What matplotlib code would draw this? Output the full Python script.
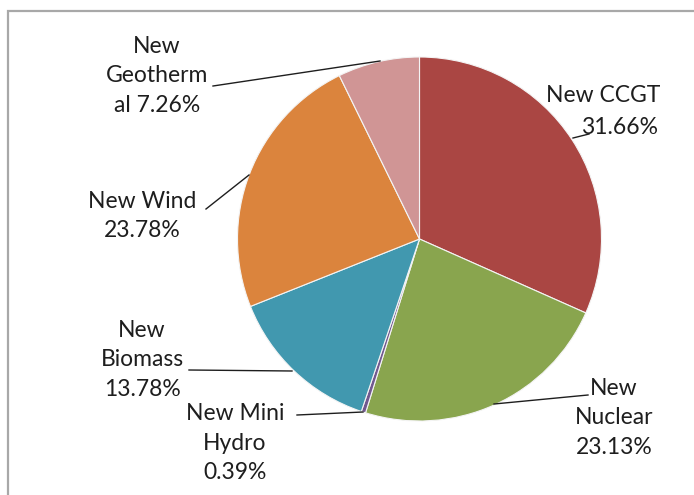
import matplotlib
matplotlib.use("Agg")
import matplotlib.pyplot as plt
from matplotlib.patches import Rectangle

# Generation mix shares (%), drawn clockwise from 12 o'clock
categories = ["New CCGT", "New Nuclear", "New Mini Hydro", "New Biomass",
              "New Wind", "New Geothermal"]
shares = [31.66, 23.13, 0.39, 13.78, 23.78, 7.26]
label_texts = ["New CCGT\n31.66%", "New\nNuclear\n23.13%", "New Mini\nHydro\n0.39%",
               "New\nBiomass\n13.78%", "New Wind\n23.78%", "New\nGeotherm\nal 7.26%"]
colors = ["#AA4643", "#89A54E", "#71588F", "#4198AF", "#DB843D", "#D09595"]

W, H = 694, 495
fig = plt.figure(figsize=(W / 100, H / 100), dpi=100)
ax = fig.add_axes([0, 0, 1, 1])

plt.rcParams["font.family"] = ["Lato", "DejaVu Sans"]

# chart frame
ax.add_patch(Rectangle((8.5, -10), W + 20, H - 10.5 + 10, fill=False,
                       edgecolor="#a8a8a8", linewidth=1.6))

cx, cy, r = 419.5, H - 239, 182
ax.pie(shares, colors=colors, startangle=90, counterclock=False,
       center=(cx, cy), radius=r, frame=True,
       wedgeprops=dict(edgecolor="#f4f4f4", linewidth=0.8))
ax.set_xlim(0, W)
ax.set_ylim(0, H)
ax.set_aspect("equal")
ax.axis("off")

FS = 16.5
TC = "#1e1e1e"

# label text positions (x center, y of middle line) and leader lines
label_pos = [(603, 112), (614, 418), (235, 443),
             (142, 360), (142, 216), (157, 76)]
leaders = [[(573, 138), (589, 134)],
           [(494, 404), (588, 395)],
           [(363, 412), (297, 415)],
           [(292, 371), (189, 370)],
           [(249, 175), (206, 209)],
           [(380, 61), (213, 86)]]

for i, (txt, (x, y)) in enumerate(zip(label_texts, label_pos)):
    if i == 0:
        top, bottom = txt.split("\n")
        ax.text(603, H - 96, top, ha="center", va="center", fontsize=FS, color=TC)
        ax.text(620, H - 128, bottom, ha="center", va="center", fontsize=FS, color=TC)
    else:
        ax.text(x, H - y, txt, ha="center", va="center", fontsize=FS,
                color=TC, linespacing=1.5)
    (x0, y0), (x1, y1) = leaders[i]
    ax.plot([x0, x1], [H - y0, H - y1], color=TC, linewidth=1.0)

fig.savefig("out.png", dpi=100)
